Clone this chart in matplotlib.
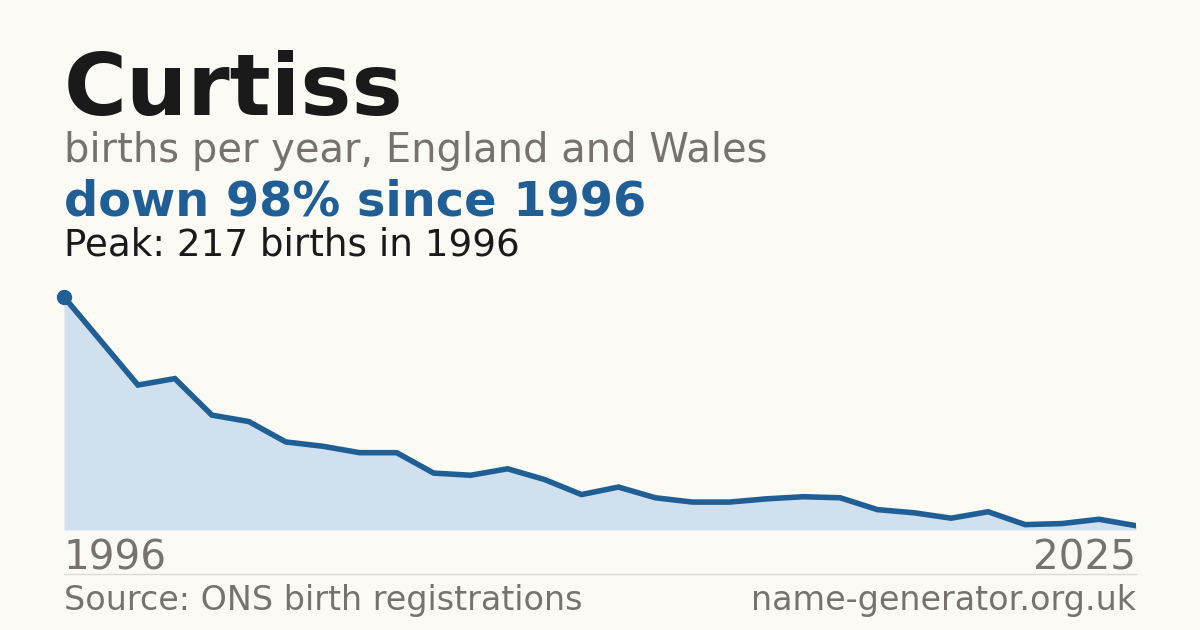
import matplotlib
matplotlib.use("Agg")
import matplotlib.pyplot as plt

years = list(range(1996, 2026))
births = [217, 176, 135, 141, 107, 101, 82, 78, 72, 72,
          53, 51, 57, 47, 33, 40, 30, 26, 26, 29,
          31, 30, 19, 16, 11, 17, 5, 6, 10, 4]

name = "Curtiss"
subtitle = "births per year, England and Wales"
source = "Source: ONS birth registrations"
site = "name-generator.org.uk"

bg = '#fbfaf5'
blue = '#1f5f96'
fill = '#d0e0ef'
grey = '#77736c'
dark = '#1a1a1a'

W, H = 1200, 630
fig = plt.figure(figsize=(W/100, H/100), dpi=100, facecolor=bg)

def fy(py):
    return (H - py) / H

# plot area, pixel box 64..1136 x 297..530
ax = fig.add_axes([64/W, fy(530), (1136-64)/W, (530-297)/H])
ax.set_facecolor(bg)
ax.fill_between(years, births, 0, color=fill, lw=0)
ax.plot(years, births, color=blue, lw=4, solid_joinstyle='miter')
peak = max(births)
peak_year = years[births.index(peak)]
ax.plot([peak_year], [peak], 'o', color=blue, ms=10, clip_on=False, zorder=5)
ax.set_xlim(years[0], years[-1])
ax.set_ylim(0, peak)
ax.axis('off')

drop = round((1 - births[-1] / peak) * 100)

fig.text(64/W, fy(115), name, fontsize=61.8, fontweight='bold', color=dark, va='baseline')
fig.text(64/W, fy(162), subtitle, fontsize=28.8, color=grey, va='baseline')
fig.text(64/W, fy(216), f"down {drop}% since {years[0]}", fontsize=34.5, fontweight='bold', color=blue, va='baseline')
fig.text(64/W, fy(256), f"Peak: {peak} births in {peak_year}", fontsize=26.8, color=dark, va='baseline')

fig.text(64/W, fy(570), str(years[0]), fontsize=29.2, color=grey, va='baseline')
fig.text(1136/W, fy(570), str(years[-1]), fontsize=29.2, color=grey, va='baseline', ha='right')

fig.add_artist(plt.Line2D([64/W, 1136/W], [fy(574), fy(574)], color='#dcdad3', lw=1))

fig.text(64/W, fy(610), source, fontsize=24, color=grey, va='baseline')
fig.text(1136/W, fy(610), site, fontsize=24, color=grey, va='baseline', ha='right')

fig.savefig('out.png', dpi=100, facecolor=bg)
